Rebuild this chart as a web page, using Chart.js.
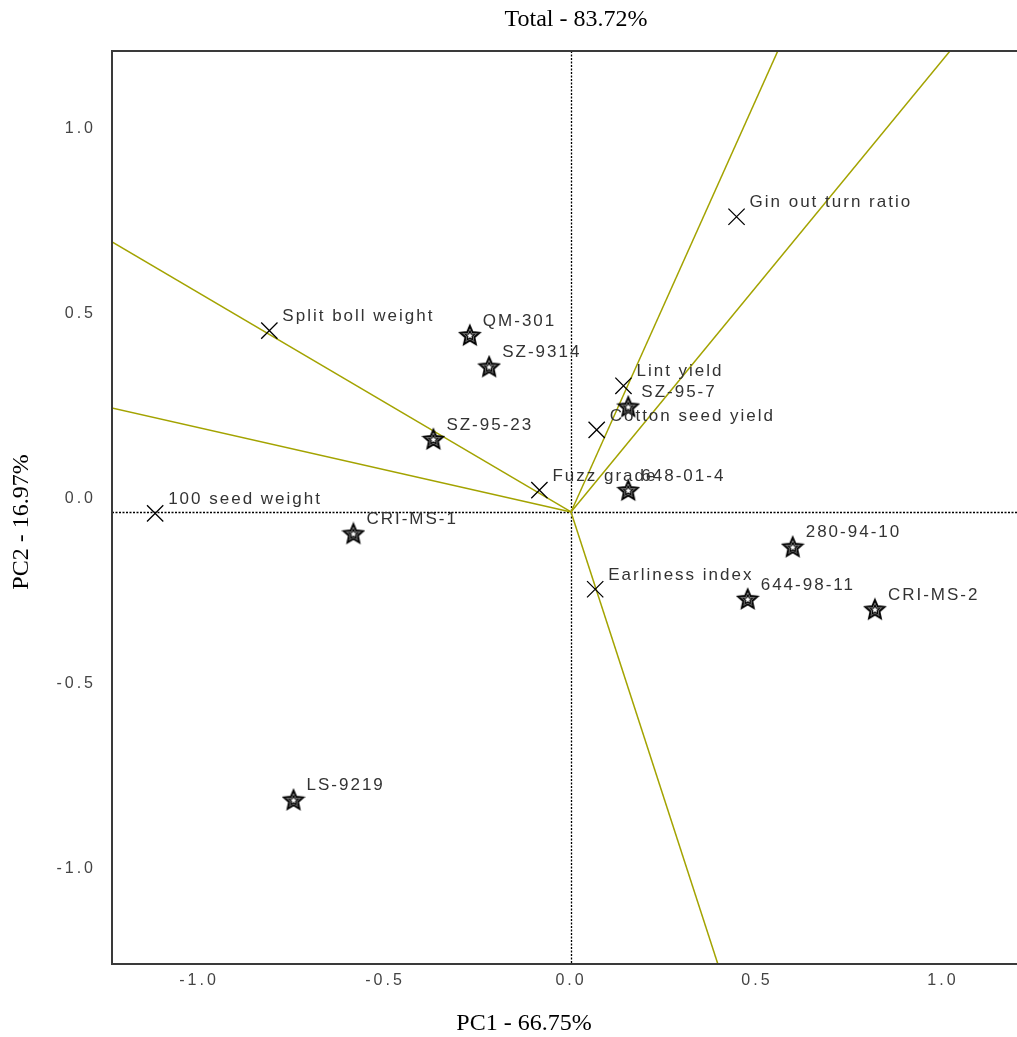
<!DOCTYPE html>
<html>
<head>
<meta charset="utf-8">
<title>GGE biplot</title>
<script src="https://cdn.jsdelivr.net/npm/chart.js@4/dist/chart.umd.min.js"></script>
<style>
  html, body { margin: 0; padding: 0; background: #fff; }
  canvas { display: block; }
</style>
</head>
<body>
<canvas id="biplot" width="1017" height="1037"></canvas>
<script>
// Trait vectors (shown with x markers)
const traitNames = ['Gin out turn ratio', 'Split boll weight', 'Lint yield', 'Cotton seed yield',
                    'Fuzz grade', '100 seed weight', 'Earliness index'];
const traitPC1 = [0.445, -0.811, 0.141, 0.069, -0.085, -1.118, 0.065];
const traitPC2 = [0.798, 0.490, 0.341, 0.222, 0.059, -0.004, -0.209];

// Genotypes (shown with star markers)
const genotypeNames = ['QM-301', 'SZ-9314', 'SZ-95-23', 'CRI-MS-1', 'SZ-95-7', '648-01-4',
                       '280-94-10', '644-98-11', 'CRI-MS-2', 'LS-9219'];
const genotypePC1 = [-0.272, -0.220, -0.370, -0.585, 0.154, 0.154, 0.596, 0.475, 0.817, -0.746];
const genotypePC2 = [0.478, 0.393, 0.197, -0.058, 0.285, 0.059, -0.094, -0.235, -0.263, -0.778];

// Sector lines from the origin (end points lie outside the frame and get clipped)
const rayPC1 = [-1.30, -1.30, 0.580, 1.063, 0.420];
const rayPC2 = [0.769, 0.296, 1.30, 1.30, -1.30];

// Axis ticks
const xTickValues = [-1.0, -0.5, 0.0, 0.5, 1.0];
const yTickValues = [-1.0, -0.5, 0.0, 0.5, 1.0];

const titleText = 'Total - 83.72%';
const xTitleText = 'PC1 - 66.75%';
const yTitleText = 'PC2 - 16.97%';

// Outlined five-point star used as the genotype marker
function makeStarMarker() {
  const size = 24, c = document.createElement('canvas');
  c.width = size; c.height = size;
  const g = c.getContext('2d');
  const cx = size / 2, cy = size / 2 + 0.8;
  function star(R, r) {
    g.beginPath();
    for (let i = 0; i < 10; i++) {
      const rad = i % 2 === 0 ? R : r;
      const a = -Math.PI / 2 + i * Math.PI / 5;
      const px = cx + rad * Math.cos(a), py = cy + rad * Math.sin(a);
      if (i === 0) g.moveTo(px, py); else g.lineTo(px, py);
    }
    g.closePath();
    g.stroke();
  }
  g.strokeStyle = '#000';
  g.lineJoin = 'miter';
  g.lineWidth = 2;
  star(10, 4.6);
  g.lineWidth = 1.3;
  star(5, 2.3);
  return c;
}
const starMarker = makeStarMarker();

const traitData = traitNames.map((n, i) => ({ x: traitPC1[i], y: traitPC2[i] }));
const genotypeData = genotypeNames.map((n, i) => ({ x: genotypePC1[i], y: genotypePC2[i] }));
const rayDatasets = rayPC1.map((x, i) => ({
  type: 'line',
  data: [{ x: 0, y: 0 }, { x: x, y: rayPC2[i] }],
  borderColor: '#a3a300',
  borderWidth: 1.5,
  pointRadius: 0,
  fill: false,
  tension: 0,
  order: 3
}));

const SANS = '"Liberation Sans", Arial, sans-serif';
const SERIF = '"Liberation Serif", "Times New Roman", serif';

// Frame, dotted zero lines, titles and point labels
const decorations = {
  id: 'decorations',
  beforeDraw(chart) {
    chart.ctx.letterSpacing = '3px';
  },
  beforeDatasetsDraw(chart) {
    const { ctx, chartArea: a, scales: { x, y } } = chart;
    ctx.save();
    ctx.letterSpacing = '0px';
    ctx.strokeStyle = '#000';
    ctx.lineWidth = 1.3;
    ctx.setLineDash([2, 1.5]);
    const x0 = Math.round(x.getPixelForValue(0)) + 0.5;
    const y0 = Math.round(y.getPixelForValue(0)) + 0.5;
    ctx.beginPath();
    ctx.moveTo(x0, a.top); ctx.lineTo(x0, a.bottom);
    ctx.moveTo(a.left, y0); ctx.lineTo(a.right, y0);
    ctx.stroke();
    ctx.restore();
  },
  afterDatasetsDraw(chart) {
    const { ctx, chartArea: a } = chart;
    ctx.save();
    // frame
    ctx.letterSpacing = '0px';
    ctx.strokeStyle = '#3a3a3a';
    ctx.lineWidth = 2;
    ctx.beginPath();
    ctx.moveTo(a.right, a.top); ctx.lineTo(a.left, a.top);
    ctx.lineTo(a.left, a.bottom); ctx.lineTo(a.right, a.bottom);
    ctx.stroke();

    // point labels
    ctx.font = '17px ' + SANS;
    ctx.letterSpacing = '2px';
    ctx.fillStyle = '#333';
    ctx.textAlign = 'left';
    ctx.textBaseline = 'middle';
    const drawLabels = (dsIndex, names) => {
      chart.getDatasetMeta(dsIndex).data.forEach((pt, i) => {
        ctx.fillText(names[i], pt.x + 13, pt.y - 14);
      });
    };
    drawLabels(0, traitNames);
    drawLabels(1, genotypeNames);

    // titles
    ctx.letterSpacing = '0px';
    ctx.fillStyle = '#000';
    ctx.font = '24px ' + SERIF;
    ctx.textAlign = 'center';
    ctx.fillText(titleText, 576, 20);
    ctx.fillText(xTitleText, 524, 1024);
    ctx.translate(22, 522);
    ctx.rotate(-Math.PI / 2);
    ctx.fillText(yTitleText, 0, 0);
    ctx.restore();
  }
};

new Chart(document.getElementById('biplot'), {
  type: 'scatter',
  data: {
    datasets: [
      {
        data: traitData,
        pointStyle: 'crossRot',
        pointRadius: 11.5,
        borderColor: '#000',
        backgroundColor: '#000',
        pointBorderWidth: 1.3,
        order: 1
      },
      {
        data: genotypeData,
        pointStyle: starMarker,
        pointRadius: 10,
        order: 0
      },
      ...rayDatasets
    ]
  },
  options: {
    responsive: false,
    devicePixelRatio: 1,
    animation: false,
    events: [],
    layout: { autoPadding: false, padding: { top: 51, right: 0, bottom: 0, left: 0 } },
    plugins: { legend: { display: false }, tooltip: { enabled: false } },
    scales: {
      x: {
        type: 'linear',
        position: 'bottom',
        min: -1.234,
        max: 1.199,
        grid: { display: false, drawTicks: false },
        border: { display: false },
        afterBuildTicks: s => { s.ticks = xTickValues.map(v => ({ value: v })); },
        afterFit: s => { s.height = 73; s.paddingLeft = 0; s.paddingRight = 0; },
        ticks: {
          padding: 7,
          color: '#444',
          font: { family: SANS, size: 16 },
          callback: v => Number(v).toFixed(1)
        }
      },
      y: {
        type: 'linear',
        position: 'left',
        min: -1.222,
        max: 1.246,
        grid: { display: false, drawTicks: false },
        border: { display: false },
        afterBuildTicks: s => { s.ticks = yTickValues.map(v => ({ value: v })); },
        afterFit: s => { s.width = 112; s.paddingTop = 0; s.paddingBottom = 0; },
        ticks: {
          padding: 16,
          labelOffset: -13,
          color: '#444',
          font: { family: SANS, size: 16 },
          callback: v => Number(v).toFixed(1)
        }
      }
    }
  },
  plugins: [decorations]
});
</script>
</body>
</html>
